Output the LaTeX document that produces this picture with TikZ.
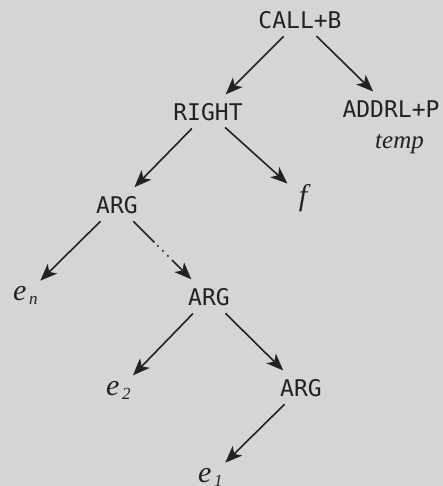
\documentclass[tikz,border=0pt]{standalone}
\usepackage{fontspec}
\newfontfamily\monofont{DejaVu Sans Mono}
\newfontfamily\itfont{Liberation Serif}
\usetikzlibrary{arrows.meta}
\definecolor{bgc}{RGB}{212,213,215}
\definecolor{ink}{RGB}{34,34,36}
\newcommand{\msub}[2]{{\itfont\itshape\fontsize{30}{30}\selectfont #1}\hspace{2.5pt}\raisebox{-4pt}{\itfont\itshape\fontsize{17}{17}\selectfont #2}}
\begin{document}
\begin{tikzpicture}[x=1pt,y=-1pt,
  mono/.style={inner sep=0pt,text height=16.8pt,text depth=0pt,font=\monofont\fontsize{23}{27}\selectfont,text=ink},
  ital/.style={inner sep=0pt,font=\itfont\itshape\fontsize{30}{30}\selectfont,text=ink},
  arr/.style={draw=ink,line width=1.6pt,-{Stealth[length=17pt,width=13.5pt,inset=4.5pt]},shorten <=23pt},
  tomono/.style={shorten >=25pt},
  toital/.style={shorten >=21pt}]
\useasboundingbox[fill=bgc] (0,0) rectangle (443,486);
\node[mono] (call) at (300,20) {CALL+B};
\node[mono] (right) at (208,112) {RIGHT};
\node[mono] (addrl) at (391,109) {ADDRL+P};
\node[inner sep=0pt,anchor=base,font=\itfont\itshape\fontsize{25}{25}\selectfont,text=ink] (temp) at (399.5,149) {temp};
\node[ital,anchor=base] (f) at (303,205) {f};
\node[mono] (arg1) at (117,205) {ARG};
\node[inner sep=0pt,anchor=base west,text=ink] (en) at (13,300.5) {\msub{e}{n}};
\node[mono] (arg2) at (209,297) {ARG};
\node[inner sep=0pt,anchor=base west,text=ink] (e2) at (106,395.5) {\msub{e}{2}};
\node[mono] (arg3) at (301,388) {ARG};
\node[inner sep=0pt,anchor=base west,text=ink] (e1) at (198,482.5) {\msub{e}{1}};
\draw[arr,tomono] (call.center) -- (right.center);
\draw[arr,tomono] (call.center) -- (addrl.center);
\draw[arr,tomono] (right.center) -- (arg1.center);
\draw[arr,toital] (right.center) -- (f.center);
\draw[arr,toital] (arg1.center) -- (en.center);
\draw[arr,tomono,dash pattern=on 30pt off 4pt on 1.6pt off 5.5pt on 1.6pt off 5.5pt on 1.6pt off 5pt on 60pt] (arg1.center) -- (arg2.center);
\draw[arr,toital] (arg2.center) -- (e2.center);
\draw[arr,tomono] (arg2.center) -- (arg3.center);
\draw[arr,toital] (arg3.center) -- (e1.center);
\end{tikzpicture}
\end{document}
